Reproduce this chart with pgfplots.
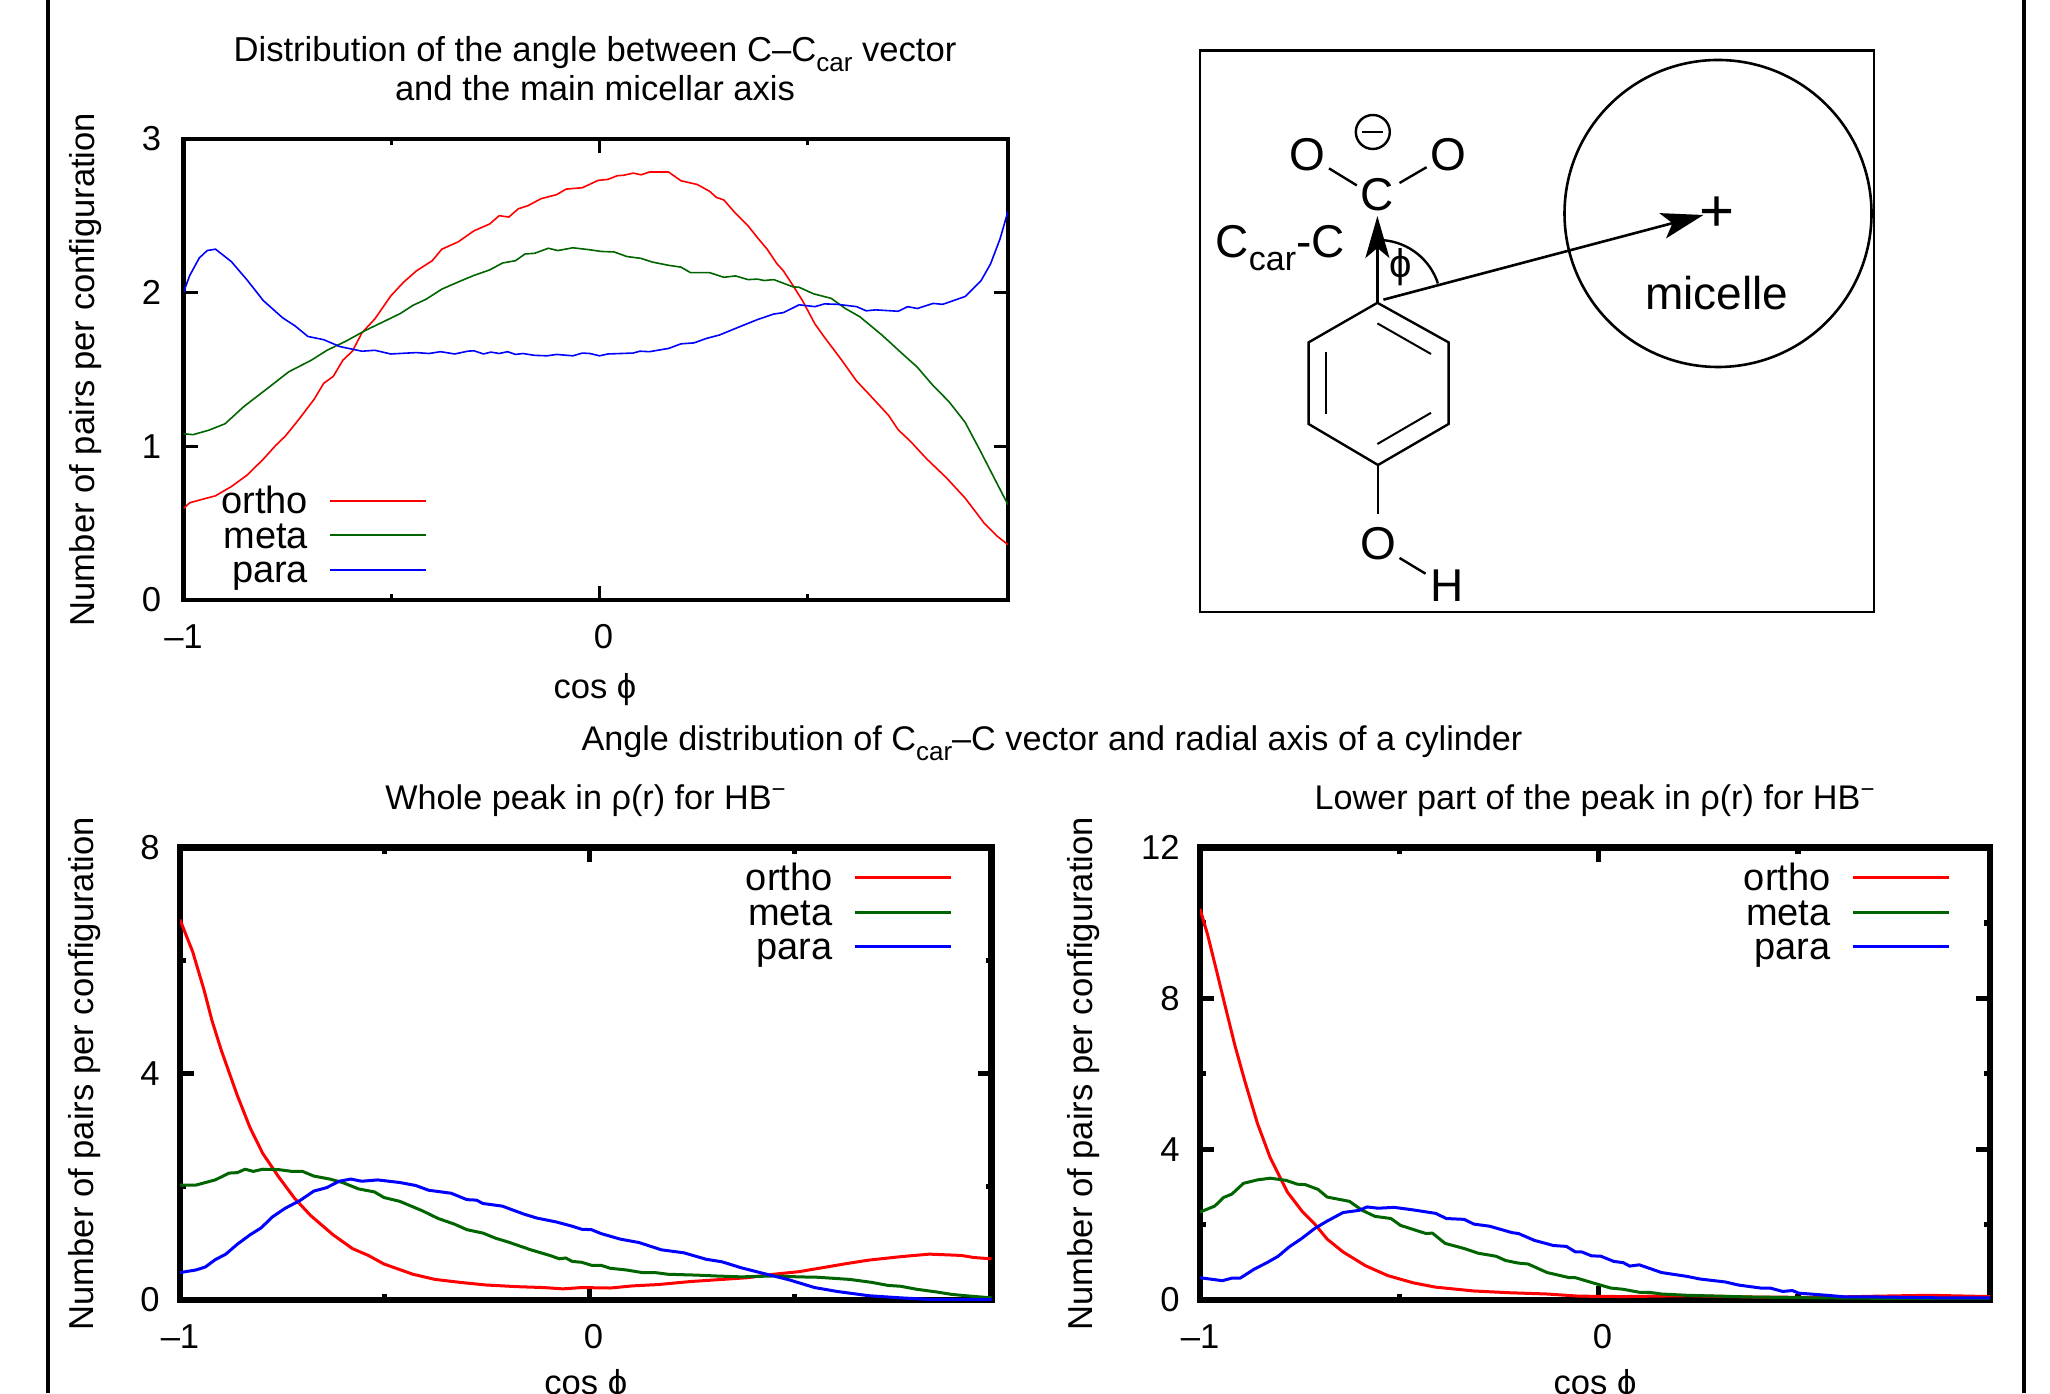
\documentclass[border=0pt]{standalone}
\usepackage{fontspec}
\setmainfont{Liberation Sans}
\usepackage{pgfplots}
\pgfplotsset{compat=1.18}
\usetikzlibrary{arrows.meta}
\definecolor{gred}{HTML}{FF0000}
\definecolor{ggreen}{HTML}{006400}
\definecolor{gblue}{HTML}{0000FF}
\newcommand{\tfs}{\fontsize{17.3}{20}\selectfont}
\newcommand{\sfs}{\fontsize{17.1}{20}\selectfont}
\newcommand{\lfs}{\fontsize{19}{20}\selectfont}
\newcommand{\sbs}[1]{\raisebox{-0.28em}{\fontsize{13}{13}\selectfont #1}}
\newcommand{\sbb}[1]{\raisebox{-0.28em}{\fontsize{17}{17}\selectfont #1}}
\pgfplotsset{
  panel/.style={
    scale only axis, anchor=south west, xmin=-1, xmax=0.982,
    tick align=inside, major tick length=7pt, minor tick length=3pt,
    every tick/.style={black}, 
    xtick={-1,0}, xticklabels={–1,\hspace*{4pt}0}, minor xtick={-0.5,0.5},
    tick label style={font=\tfs, inner sep=0pt},
    xticklabel shift=12pt, yticklabel shift=11pt,
    ylabel={Number of pairs per configuration},
    xlabel={cos ϕ},
    legend cell align=right, legend plot pos=right,
    legend image code/.code={\draw[##1,yshift=6.4pt] (0pt,0pt) -- (48pt,0pt);},
    every axis legend/.append style={draw=none, fill=none, inner sep=0pt, outer sep=0pt,
      font=\lfs, anchor=north east, column sep=10.5pt, row sep=0pt,
      nodes={inner sep=0pt, outer sep=0pt, text height=13.5pt, text depth=3.75pt, anchor=base east}},
  },
}
\begin{document}
\begin{tikzpicture}
\clip (0,0) rectangle (1025pt,696.5pt);
\begin{scope}[x=0.5pt,y=-0.5pt,yshift=696.5pt,line join=miter]
  % page rules
  \draw[line width=2pt] (48,0) -- (48,1393);
  \draw[line width=2pt] (2024,0) -- (2024,1393);
  % headings
  \node[font=\tfs,align=center,inner sep=0pt] at (595,69) {Distribution of the angle between C–C\sbs{car} vector\\[-0.5pt]and the main micellar axis};
  \node[font=\sfs,inner sep=0pt] at (1052,743) {Angle distribution of C\sbs{car}–C vector and radial axis of a cylinder};
  \node[font=\sfs,inner sep=0pt] at (586,801) {Whole peak in ρ(r) for HB\textsuperscript{−}};
  \node[font=\sfs,inner sep=0pt] at (1595,801) {Lower part of the peak in ρ(r) for HB\textsuperscript{−}};
  % schematic
  \draw[line width=1.3pt] (1200,50.6) rectangle (1874,612);
  \draw[line width=1.3pt] (1718,213.5) circle[radius=153.5];
  \draw[line width=1.2pt,line join=miter] (1377.4,302.8) -- (1448.6,342.4) -- (1448.6,424) -- (1378,465) -- (1308.6,424) -- (1308.6,342.4) -- cycle;
  \draw[line width=1pt] (1377.4,323.4) -- (1431,354);
  \draw[line width=1pt] (1326,352) -- (1326,414.3);
  \draw[line width=1pt] (1377.4,444) -- (1431,412.8);
  \draw[line width=1.2pt] (1378,465) -- (1378,514);
  \draw[line width=1.2pt] (1399.5,558) -- (1425.6,573.7);
  \draw[line width=1.2pt] (1329,168.4) -- (1356.8,185.4);
  \draw[line width=1.2pt] (1399.5,183) -- (1426.6,167.2);
  \draw[line width=1.2pt] (1372.8,132) circle[radius=17];
  \draw[line width=1.3pt] (1362,132) -- (1383,132);
  \draw[line width=1.2pt,-{Stealth[length=21pt,width=12pt,inset=5pt]}] (1377.4,302.8) -- (1377.4,216);
  \draw[line width=1.3pt,-{Stealth[length=21pt,width=13pt,inset=5pt]}] (1383.4,299.7) -- (1703.4,215);
  \draw[line width=1.2pt] (1383.5,240.2) arc[start angle=-85,end angle=-18,radius=63];
  \begin{scope}[every node/.style={inner sep=0pt,font=\fontsize{23}{25}\selectfont}]
    \node at (1377.4,195) {C};
    \node at (1307.6,154.5) {O};
    \node at (1448.6,154.5) {O};
    \node at (1378,544) {O};
    \node at (1447,585.5) {H};
    \node[anchor=base east] at (1345,258) {C\sbb{car}-C};
    \node at (1717,293) {micelle};
    \node[font=\fontsize{30}{30}\selectfont] at (1716.5,214) {+};
    \node[font=\fontsize{20}{22}\selectfont] at (1400.4,267) {ϕ};
  \end{scope}
\end{scope}

% ---- top left
\begin{axis}[panel, at={(91.75pt,396.5pt)}, width=412.25pt, height=230.5pt,
  axis line style={line width=2.1pt}, every tick/.append style={line width=1.8pt},
  ymin=0, ymax=3, ytick={0,1,2,3}, yticklabels={0,1,2,3},
  every axis x label/.style={at={(axis description cs:0.499,-0.195)},anchor=center,font=\tfs},
  every axis y label/.style={at={(axis description cs:-0.119,0.5)},anchor=center,rotate=90,font=\tfs},
  legend style={at={(0.295,0.246)}},
  every axis plot/.append style={line width=0.8pt, line join=round},
]
\addplot[gred] coordinates {(-1.000,0.595)(-0.985,0.633)(-0.962,0.650)(-0.923,0.678)(-0.885,0.738)(-0.847,0.813)(-0.808,0.917)(-0.778,1.007)(-0.755,1.067)(-0.724,1.171)(-0.686,1.306)(-0.663,1.410)(-0.640,1.455)(-0.617,1.560)(-0.594,1.619)(-0.571,1.739)(-0.540,1.829)(-0.502,1.978)(-0.471,2.068)(-0.440,2.142)(-0.402,2.208)(-0.379,2.283)(-0.340,2.330)(-0.302,2.402)(-0.264,2.447)(-0.241,2.501)(-0.218,2.492)(-0.195,2.546)(-0.172,2.566)(-0.141,2.611)(-0.103,2.638)(-0.080,2.674)(-0.041,2.683)(-0.003,2.731)(0.020,2.737)(0.043,2.761)(0.058,2.764)(0.081,2.778)(0.100,2.767)(0.120,2.785)(0.166,2.785)(0.196,2.728)(0.235,2.704)(0.265,2.659)(0.281,2.620)(0.299,2.603)(0.327,2.516)(0.357,2.435)(0.380,2.357)(0.403,2.283)(0.426,2.190)(0.442,2.142)(0.465,2.047)(0.488,1.948)(0.518,1.796)(0.541,1.709)(0.580,1.569)(0.618,1.425)(0.649,1.336)(0.695,1.201)(0.718,1.108)(0.748,1.031)(0.787,0.917)(0.833,0.798)(0.879,0.663)(0.925,0.499)(0.956,0.415)(0.982,0.360)};
\addlegendentry{ortho}
\addplot[ggreen] coordinates {(-1.000,1.082)(-0.977,1.076)(-0.939,1.105)(-0.900,1.147)(-0.854,1.261)(-0.801,1.371)(-0.747,1.485)(-0.693,1.560)(-0.655,1.625)(-0.609,1.685)(-0.563,1.754)(-0.517,1.814)(-0.479,1.864)(-0.448,1.918)(-0.417,1.957)(-0.379,2.023)(-0.333,2.077)(-0.302,2.112)(-0.264,2.148)(-0.233,2.193)(-0.202,2.208)(-0.179,2.252)(-0.156,2.256)(-0.123,2.289)(-0.100,2.274)(-0.064,2.292)(-0.026,2.280)(0.005,2.268)(0.035,2.265)(0.066,2.235)(0.100,2.223)(0.127,2.199)(0.166,2.178)(0.196,2.166)(0.219,2.130)(0.265,2.130)(0.299,2.100)(0.327,2.109)(0.357,2.085)(0.380,2.088)(0.396,2.079)(0.419,2.085)(0.465,2.038)(0.480,2.035)(0.514,1.993)(0.557,1.963)(0.591,1.897)(0.626,1.843)(0.679,1.724)(0.725,1.610)(0.764,1.515)(0.802,1.395)(0.840,1.291)(0.879,1.156)(0.917,0.962)(0.948,0.798)(0.982,0.620)};
\addlegendentry{meta}
\addplot[gblue] coordinates {(-1.000,2.002)(-0.985,2.112)(-0.962,2.226)(-0.943,2.274)(-0.923,2.283)(-0.885,2.202)(-0.847,2.082)(-0.808,1.948)(-0.762,1.837)(-0.732,1.784)(-0.701,1.715)(-0.663,1.694)(-0.624,1.649)(-0.571,1.619)(-0.540,1.625)(-0.502,1.601)(-0.440,1.610)(-0.410,1.604)(-0.382,1.616)(-0.348,1.601)(-0.317,1.619)(-0.302,1.622)(-0.279,1.601)(-0.261,1.613)(-0.241,1.604)(-0.221,1.616)(-0.202,1.598)(-0.184,1.604)(-0.156,1.592)(-0.126,1.589)(-0.103,1.598)(-0.064,1.589)(-0.041,1.607)(-0.023,1.604)(0.000,1.589)(0.020,1.601)(0.081,1.607)(0.097,1.619)(0.120,1.616)(0.166,1.637)(0.196,1.667)(0.227,1.673)(0.258,1.703)(0.288,1.724)(0.334,1.775)(0.380,1.825)(0.419,1.861)(0.442,1.870)(0.480,1.921)(0.518,1.909)(0.541,1.927)(0.572,1.924)(0.618,1.909)(0.641,1.882)(0.664,1.888)(0.718,1.879)(0.741,1.909)(0.764,1.897)(0.802,1.930)(0.825,1.924)(0.879,1.975)(0.917,2.077)(0.940,2.187)(0.963,2.351)(0.982,2.530)};
\addlegendentry{para}
\end{axis}

% ---- bottom left
\begin{axis}[panel, at={(90pt,46.5pt)}, width=405.75pt, height=226.25pt,
  axis line style={line width=3.2pt}, every tick/.append style={line width=2.6pt},
  ymin=0, ymax=8, ytick={0,4,8}, yticklabels={0,4,8}, minor ytick={2,6}, yticklabel shift=10pt,
  every axis x label/.style={at={(axis description cs:0.5,-0.19)},anchor=center,font=\tfs},
  every axis y label/.style={at={(axis description cs:-0.117,0.5)},anchor=center,rotate=90,font=\tfs},
  legend style={at={(0.952,0.9645)}},
  every axis plot/.append style={line width=1.5pt, line join=round},
]
\addplot[gred] coordinates {(-1.000,6.725)(-0.969,6.156)(-0.941,5.474)(-0.922,4.943)(-0.899,4.412)(-0.860,3.616)(-0.829,3.048)(-0.798,2.593)(-0.759,2.176)(-0.720,1.797)(-0.681,1.494)(-0.626,1.152)(-0.579,0.910)(-0.540,0.788)(-0.502,0.637)(-0.431,0.455)(-0.377,0.364)(-0.315,0.311)(-0.252,0.265)(-0.174,0.235)(-0.112,0.220)(-0.065,0.197)(-0.019,0.220)(0.051,0.212)(0.106,0.250)(0.168,0.273)(0.246,0.326)(0.308,0.356)(0.386,0.394)(0.449,0.455)(0.511,0.500)(0.573,0.576)(0.628,0.644)(0.682,0.705)(0.760,0.766)(0.830,0.811)(0.908,0.788)(0.939,0.751)(0.982,0.728)};
\addlegendentry{ortho}
\addplot[ggreen] coordinates {(-1.000,2.032)(-0.961,2.032)(-0.914,2.123)(-0.880,2.244)(-0.860,2.252)(-0.841,2.312)(-0.821,2.274)(-0.798,2.312)(-0.759,2.305)(-0.727,2.274)(-0.701,2.274)(-0.673,2.191)(-0.634,2.138)(-0.603,2.077)(-0.564,1.964)(-0.525,1.911)(-0.502,1.812)(-0.463,1.744)(-0.408,1.577)(-0.369,1.440)(-0.330,1.342)(-0.299,1.243)(-0.260,1.183)(-0.229,1.092)(-0.198,1.024)(-0.143,0.887)(-0.097,0.788)(-0.073,0.728)(-0.058,0.743)(-0.042,0.682)(-0.019,0.667)(0.005,0.614)(0.028,0.614)(0.051,0.561)(0.090,0.531)(0.129,0.485)(0.160,0.485)(0.192,0.455)(0.262,0.440)(0.308,0.425)(0.371,0.409)(0.449,0.425)(0.511,0.409)(0.558,0.402)(0.636,0.364)(0.690,0.311)(0.729,0.258)(0.760,0.243)(0.799,0.190)(0.846,0.144)(0.885,0.099)(0.931,0.068)(0.982,0.038)};
\addlegendentry{meta}
\addplot[gblue] coordinates {(-1.000,0.485)(-0.961,0.531)(-0.938,0.584)(-0.914,0.713)(-0.888,0.811)(-0.860,0.986)(-0.829,1.152)(-0.802,1.274)(-0.774,1.471)(-0.743,1.622)(-0.707,1.759)(-0.673,1.926)(-0.642,1.986)(-0.611,2.100)(-0.583,2.138)(-0.556,2.100)(-0.517,2.123)(-0.463,2.077)(-0.424,2.024)(-0.393,1.941)(-0.338,1.888)(-0.299,1.774)(-0.276,1.766)(-0.260,1.706)(-0.213,1.660)(-0.159,1.516)(-0.128,1.448)(-0.081,1.380)(-0.042,1.304)(-0.019,1.251)(0.005,1.243)(0.028,1.175)(0.075,1.077)(0.121,1.016)(0.176,0.887)(0.231,0.834)(0.285,0.720)(0.324,0.675)(0.371,0.569)(0.433,0.455)(0.488,0.356)(0.550,0.220)(0.604,0.152)(0.682,0.076)(0.760,0.038)(0.838,0.008)(0.982,0.008)};
\addlegendentry{para}
\end{axis}

% ---- bottom right
\begin{axis}[panel, at={(600pt,46.5pt)}, width=395pt, height=226.25pt,
  axis line style={line width=3.2pt}, every tick/.append style={line width=2.6pt},
  ymin=0, ymax=12, ytick={0,4,8,12}, yticklabels={0,4,8,12}, minor ytick={2,6,10}, yticklabel shift=10pt,
  every axis x label/.style={at={(axis description cs:0.5,-0.19)},anchor=center,font=\tfs},
  every axis y label/.style={at={(axis description cs:-0.148,0.5)},anchor=center,rotate=90,font=\tfs},
  legend style={at={(0.95,0.9645)}},
  every axis plot/.append style={line width=1.5pt, line join=round},
]
\addplot[gred] coordinates {(-1.000,10.373)(-0.981,9.690)(-0.957,8.667)(-0.936,7.757)(-0.912,6.733)(-0.888,5.823)(-0.856,4.686)(-0.824,3.776)(-0.781,2.866)(-0.744,2.354)(-0.712,2.013)(-0.681,1.615)(-0.641,1.274)(-0.585,0.910)(-0.529,0.648)(-0.465,0.455)(-0.409,0.341)(-0.313,0.239)(-0.225,0.193)(-0.129,0.159)(-0.050,0.102)(0.062,0.091)(0.222,0.114)(0.382,0.080)(0.542,0.068)(0.701,0.102)(0.829,0.125)(0.982,0.091)};
\addlegendentry{ortho}
\addplot[ggreen] coordinates {(-1.000,2.332)(-0.963,2.491)(-0.941,2.718)(-0.920,2.809)(-0.891,3.094)(-0.856,3.185)(-0.824,3.230)(-0.784,3.173)(-0.756,3.071)(-0.736,3.060)(-0.704,2.934)(-0.681,2.730)(-0.625,2.616)(-0.593,2.377)(-0.561,2.218)(-0.521,2.161)(-0.497,1.979)(-0.457,1.843)(-0.433,1.763)(-0.417,1.774)(-0.385,1.501)(-0.337,1.365)(-0.302,1.240)(-0.257,1.160)(-0.233,1.046)(-0.201,0.978)(-0.177,0.955)(-0.129,0.728)(-0.073,0.591)(-0.058,0.591)(-0.018,0.466)(0.030,0.318)(0.062,0.284)(0.102,0.205)(0.126,0.205)(0.158,0.159)(0.222,0.125)(0.382,0.080)(0.542,0.057)(0.701,0.045)(0.982,0.045)};
\addlegendentry{meta}
\addplot[gblue] coordinates {(-1.000,0.591)(-0.944,0.512)(-0.920,0.580)(-0.899,0.580)(-0.864,0.819)(-0.832,0.990)(-0.804,1.160)(-0.776,1.410)(-0.744,1.638)(-0.712,1.899)(-0.681,2.093)(-0.641,2.320)(-0.601,2.377)(-0.581,2.468)(-0.553,2.434)(-0.513,2.457)(-0.465,2.389)(-0.409,2.298)(-0.382,2.161)(-0.337,2.138)(-0.313,2.013)(-0.273,1.956)(-0.217,1.786)(-0.201,1.763)(-0.161,1.581)(-0.113,1.444)(-0.081,1.422)(-0.058,1.274)(-0.042,1.274)(-0.018,1.172)(0.006,1.160)(0.038,1.024)(0.062,0.990)(0.078,0.899)(0.102,0.933)(0.158,0.728)(0.222,0.626)(0.254,0.557)(0.318,0.478)(0.350,0.398)(0.406,0.318)(0.430,0.318)(0.462,0.227)(0.486,0.250)(0.502,0.182)(0.573,0.125)(0.621,0.080)(0.701,0.080)(0.861,0.057)(0.982,0.057)};
\addlegendentry{para}
\end{axis}
\end{tikzpicture}
\end{document}
